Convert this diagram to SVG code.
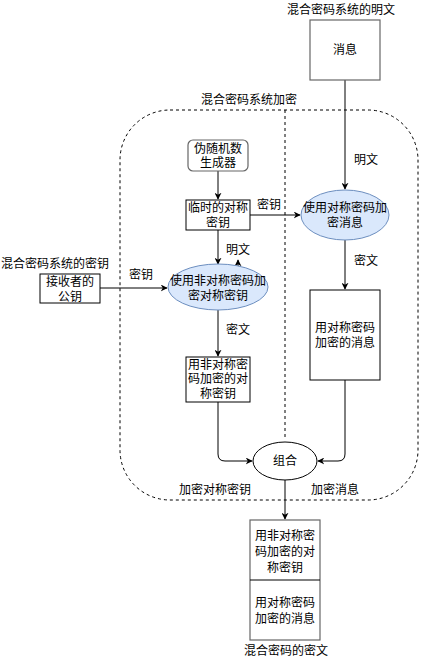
<svg xmlns="http://www.w3.org/2000/svg" width="421" height="663" viewBox="0 0 421 663">
<style>
text{font-family:"Liberation Sans","Noto Sans CJK SC",sans-serif;font-size:12px;fill:#000;text-anchor:middle;dominant-baseline:central}
.box{fill:#fff;stroke:#000;stroke-width:1}
.gbox{fill:#fff;stroke:#666;stroke-width:1.2}
.ell{fill:#dae8fc;stroke:#6c8ebf;stroke-width:1}
.line{fill:none;stroke:#000;stroke-width:1}
.dash{fill:none;stroke:#000;stroke-width:1;stroke-dasharray:3 3}
</style>
<defs>
<marker id="ah" viewBox="0 0 10 10" refX="9" refY="5" markerWidth="7" markerHeight="7" orient="auto" markerUnits="userSpaceOnUse">
<path d="M0,0 L10,5 L0,10 L3,5 Z" fill="#000"/>
</marker>
</defs>
<rect width="421" height="663" fill="#fff"/>
<g id="container">
<rect class="dash" x="120" y="110" width="298" height="390" rx="50" ry="50"/>
<line class="dash" x1="285" y1="110" x2="285" y2="440"/>
<text x="249" y="100">混合密码系统加密</text>
<text x="215" y="490">加密对称密钥</text>
<text x="335" y="490">加密消息</text>
</g>
<g id="connectors">
<line class="line" x1="345" y1="80" x2="345" y2="189" marker-end="url(#ah)"/>
<line class="line" x1="218" y1="171" x2="218" y2="199" marker-end="url(#ah)"/>
<line class="line" x1="250" y1="215" x2="300" y2="215" marker-end="url(#ah)"/>
<line class="line" x1="218" y1="230" x2="218" y2="264" marker-end="url(#ah)"/>
<line class="line" x1="238" y1="268" x2="238" y2="260" marker-end="url(#ah)"/>
<line class="line" x1="100" y1="288" x2="167" y2="288" marker-end="url(#ah)"/>
<line class="line" x1="345" y1="240" x2="345" y2="289" marker-end="url(#ah)"/>
<line class="line" x1="218" y1="310" x2="218" y2="356" marker-end="url(#ah)"/>
<path class="line" d="M218,402 L218,454 Q218,461 225,461 L252,461" marker-end="url(#ah)"/>
<path class="line" d="M345,380 L345,454 Q345,461 338,461 L318,461" marker-end="url(#ah)"/>
<line class="line" x1="285" y1="480" x2="285" y2="519" marker-end="url(#ah)"/>
<text x="366" y="160">明文</text>
<text x="269" y="205">密钥</text>
<text x="238" y="250">明文</text>
<text x="141" y="275">密钥</text>
<text x="366" y="261">密文</text>
<text x="238" y="330">密文</text>
</g>
<g id="plaintext">
<text x="341" y="10">混合密码系统的明文</text>
<rect class="gbox" x="310" y="20" width="70" height="60"/>
<text x="345" y="50">消息</text>
</g>
<g id="prng">
<rect class="gbox" x="188" y="140" width="60" height="31" rx="5" ry="5"/>
<text x="218" y="149">伪随机数</text>
<text x="218" y="163">生成器</text>
</g>
<g id="tempkey">
<rect class="box" x="186" y="200" width="64" height="30"/>
<text x="218" y="208">临时的对称</text>
<text x="218" y="223">密钥</text>
</g>
<g id="symenc">
<ellipse class="ell" cx="345" cy="215" rx="44" ry="25"/>
<text x="345" y="208">使用对称密码加</text>
<text x="345" y="223">密消息</text>
</g>
<g id="pubkey">
<text x="55" y="264">混合密码系统的密钥</text>
<rect class="box" x="40" y="274" width="60" height="29"/>
<text x="70" y="282">接收者的</text>
<text x="70" y="297">公钥</text>
</g>
<g id="asymenc">
<ellipse class="ell" cx="218" cy="287" rx="50" ry="23"/>
<text x="218" y="281">使用非对称密码加</text>
<text x="218" y="296">密对称密钥</text>
</g>
<g id="encmsg">
<rect class="box" x="310" y="290" width="70" height="90"/>
<text x="345" y="328">用对称密码</text>
<text x="345" y="343">加密的消息</text>
</g>
<g id="enckey">
<rect class="box" x="186" y="357" width="64" height="45"/>
<text x="218" y="365">用非对称密</text>
<text x="218" y="379">码加密的对</text>
<text x="218" y="394">称密钥</text>
</g>
<g id="combine">
<ellipse class="box" cx="285" cy="461" rx="32" ry="19"/>
<text x="285" y="461">组合</text>
</g>
<g id="ciphertext">
<rect class="gbox" x="250" y="520" width="70" height="120"/>
<line x1="250" y1="580" x2="320" y2="580" stroke="#000" stroke-width="1"/>
<text x="285" y="536">用非对称密</text>
<text x="285" y="552">码加密的对</text>
<text x="285" y="568">称密钥</text>
<text x="285" y="603">用对称密码</text>
<text x="285" y="619">加密的消息</text>
<text x="286" y="651">混合密码的密文</text>
</g>
</svg>
